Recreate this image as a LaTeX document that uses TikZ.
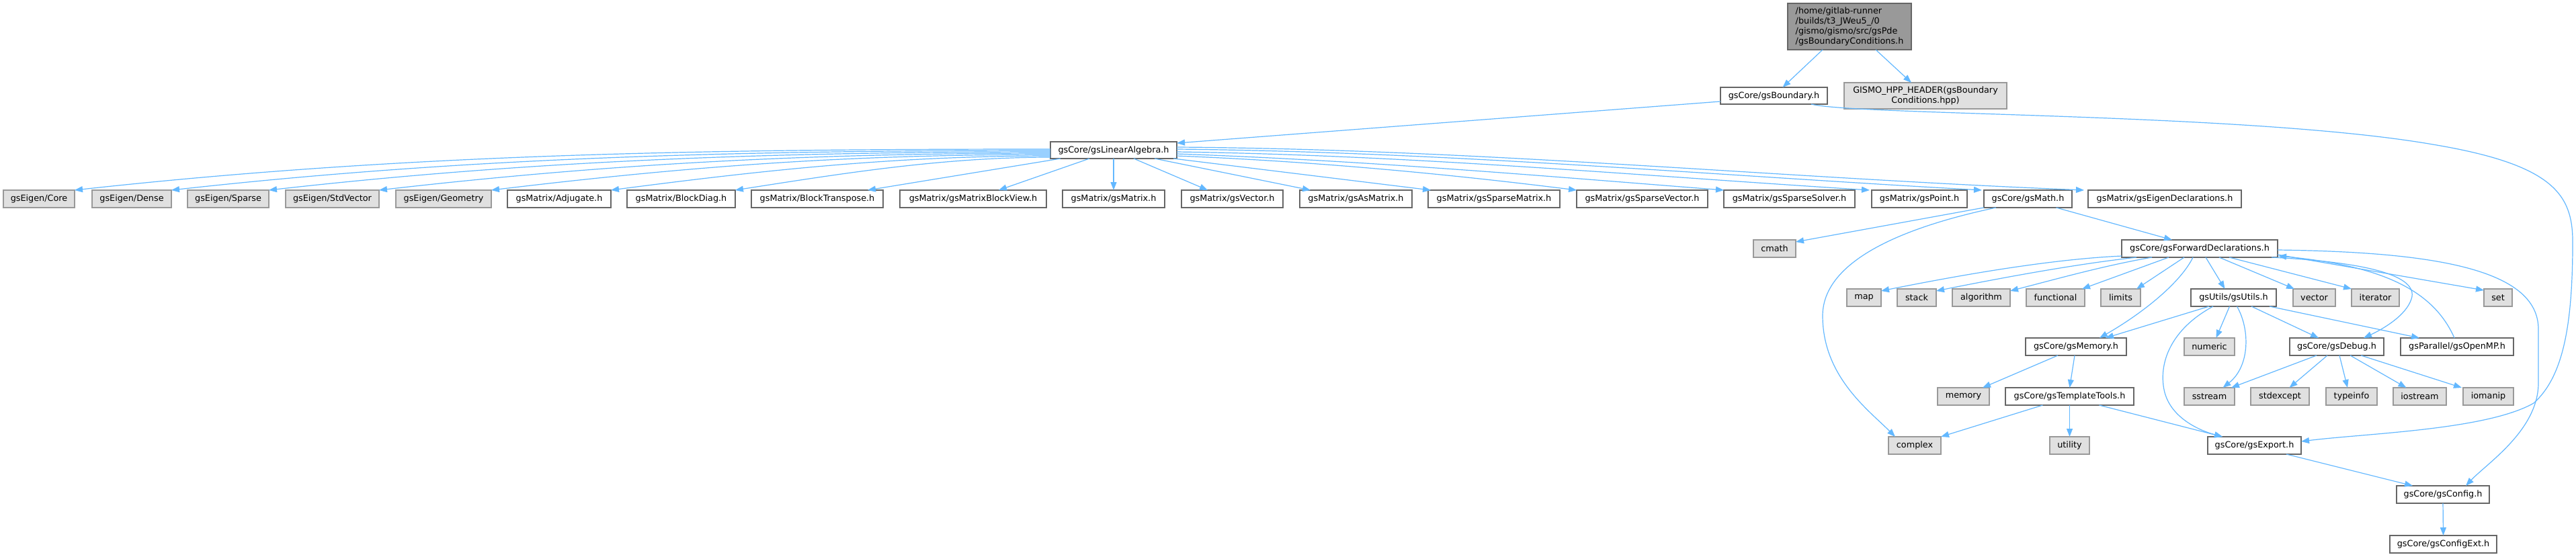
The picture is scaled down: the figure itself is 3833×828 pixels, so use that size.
\documentclass[tikz,border=0pt]{standalone}
\usepackage{fontspec}
\setmainfont{DejaVu Sans}
\usetikzlibrary{arrows.meta,calc}
\definecolor{edgec}{HTML}{63B8FF}
\definecolor{bordc}{HTML}{666666}
\definecolor{sysfill}{HTML}{E0E0E0}
\definecolor{sysbord}{HTML}{999999}
\definecolor{topfill}{HTML}{999999}
\newcommand{\gnode}[7]{\node[#1, minimum width={(#4)-(#3)}, minimum height={(#6)-(#5)}] (#2) at ({((#3)+(#4))/2},{((#5)+(#6))/2}) {#7};}
\begin{document}
\begin{tikzpicture}[x=1pt,y=-1pt,
  box/.style={draw=bordc, fill=white, line width=1.3pt, inner sep=0pt, outer sep=0pt, font=\fontsize{12.8}{15}\selectfont, text=black},
  sysbox/.style={box, draw=sysbord, fill=sysfill},
  topbox/.style={box, fill=topfill, align=left},
  edge/.style={draw=edgec, line width=1.2pt, -{Triangle[length=12pt,width=9pt]}}]
\fill[white] (0,0) rectangle (3833,828);
\useasboundingbox (0,0) rectangle (3833,828);
% nodes
\gnode{topbox}{top}{2660}{2844}{5}{74}{/home/gitlab-runner\\/builds/t3\_JWeu5\_/0\\/gismo/gismo/src/gsPde\\/gsBoundaryConditions.h}
\gnode{box}{gsb}{2560}{2719}{130}{155}{gsCore/gsBoundary.h}
\gnode{sysbox,align=center}{gismo}{2744}{2986}{123}{162}{GISMO\_HPP\_HEADER(gsBoundary\\Conditions.hpp)}
\gnode{box}{la}{1563}{1751}{211}{236}{gsCore/gsLinearAlgebra.h}
% row 1
\gnode{sysbox}{core}{5}{111}{283}{309}{gsEigen/Core}
\gnode{sysbox}{dense}{137}{255}{283}{309}{gsEigen/Dense}
\gnode{sysbox}{sparse}{279}{400}{283}{309}{gsEigen/Sparse}
\gnode{sysbox}{stdv}{425}{564}{283}{309}{gsEigen/StdVector}
\gnode{sysbox}{geom}{589}{731}{283}{309}{gsEigen/Geometry}
\gnode{box}{adj}{755}{909}{283}{309}{gsMatrix/Adjugate.h}
\gnode{box}{bdiag}{933}{1094}{283}{309}{gsMatrix/BlockDiag.h}
\gnode{box}{btr}{1118}{1314}{283}{309}{gsMatrix/BlockTranspose.h}
\gnode{box}{mbv}{1339}{1557}{283}{309}{gsMatrix/gsMatrixBlockView.h}
\gnode{box}{mat}{1581}{1733}{283}{309}{gsMatrix/gsMatrix.h}
\gnode{box}{vecm}{1758}{1909}{283}{309}{gsMatrix/gsVector.h}
\gnode{box}{asm}{1934}{2101}{283}{309}{gsMatrix/gsAsMatrix.h}
\gnode{box}{spm}{2125}{2321}{283}{309}{gsMatrix/gsSparseMatrix.h}
\gnode{box}{spv}{2346}{2541}{283}{309}{gsMatrix/gsSparseVector.h}
\gnode{box}{sps}{2565}{2760}{283}{309}{gsMatrix/gsSparseSolver.h}
\gnode{box}{pt}{2785}{2927}{283}{309}{gsMatrix/gsPoint.h}
\gnode{box}{math}{2952}{3083}{283}{309}{gsCore/gsMath.h}
\gnode{box}{eig}{3107}{3335}{283}{309}{gsMatrix/gsEigenDeclarations.h}
% row 2
\gnode{sysbox}{cmath}{2609}{2672}{357}{383}{cmath}
\gnode{box}{fd}{3157}{3389}{357}{383}{gsCore/gsForwardDeclarations.h}
% row 3
\gnode{sysbox}{nmap}{2748}{2799}{430}{456}{map}
\gnode{sysbox}{nstack}{2823}{2881}{430}{456}{stack}
\gnode{sysbox}{nalg}{2905}{2991}{430}{456}{algorithm}
\gnode{sysbox}{nfunc}{3015}{3102}{430}{456}{functional}
\gnode{sysbox}{nlim}{3126}{3185}{430}{456}{limits}
\gnode{box}{ut}{3260}{3387}{430}{456}{gsUtils/gsUtils.h}
\gnode{sysbox}{nvec}{3412}{3475}{430}{456}{vector}
\gnode{sysbox}{niter}{3499}{3570}{430}{456}{iterator}
\gnode{sysbox}{nset}{3696}{3738}{430}{456}{set}
% row 4
\gnode{box}{mem}{3014}{3164}{503}{529}{gsCore/gsMemory.h}
\gnode{sysbox}{num}{3250}{3325}{503}{529}{numeric}
\gnode{box}{dbg}{3407}{3547}{503}{529}{gsCore/gsDebug.h}
\gnode{box}{omp}{3572}{3740}{503}{529}{gsParallel/gsOpenMP.h}
% row 5
\gnode{sysbox}{nmemory}{2883}{2960}{577}{603}{memory}
\gnode{box}{tt}{2984}{3175}{577}{603}{gsCore/gsTemplateTools.h}
\gnode{sysbox}{sst}{3250}{3325}{577}{603}{sstream}
\gnode{sysbox}{stdx}{3349}{3436}{577}{603}{stdexcept}
\gnode{sysbox}{typ}{3461}{3537}{577}{603}{typeinfo}
\gnode{sysbox}{ios}{3561}{3640}{577}{603}{iostream}
\gnode{sysbox}{iom}{3665}{3740}{577}{603}{iomanip}
% row 6
\gnode{sysbox}{complex}{2810}{2888}{650}{676}{complex}
\gnode{sysbox}{util}{3050}{3109}{650}{676}{utility}
\gnode{box}{exp}{3285}{3424}{650}{676}{gsCore/gsExport.h}
% row 7-8
\gnode{box}{cfg}{3566}{3704}{723}{749}{gsCore/gsConfig.h}
\gnode{box}{cfgx}{3556}{3715}{797}{823}{gsCore/gsConfigExt.h}
% ---------------- edges
\draw[edge] ($(top.south)+(-40,0)$) -- ($(gsb.north)+(13,0)$);
\draw[edge] ($(top.south)+(39,0)$) -- ($(gismo.north)+(-21,0)$);
\draw[edge] ($(gsb.south west)+(0,-4)$) -- ($(la.north east)+(0,2)$);
\draw[edge] ($(gsb.south east)+(-24,0)$) .. controls (2760,172) and (3350,168) .. (3620,215) .. controls (3800,245) and (3828,290) .. (3828,360) .. controls (3828,480) and (3815,560) .. (3770,600) .. controls (3700,640) and (3520,645) .. ($(exp.north east)+(0,7)$);
% fan from linear algebra, left
\draw[edge] ($(la.north west)+(0,11)$) .. controls +(-500,0) and +(500,-55) .. (core.north east);
\draw[edge] ($(la.north west)+(0,13)$) .. controls +(-450,0) and +(450,-50) .. (dense.north east);
\draw[edge] ($(la.north west)+(0,15)$) .. controls +(-400,0) and +(400,-45) .. (sparse.north east);
\draw[edge] ($(la.north west)+(0,17)$) .. controls +(-350,0) and +(350,-40) .. (stdv.north east);
\draw[edge] ($(la.north west)+(0,19)$) .. controls +(-300,0) and +(300,-36) .. (geom.north east);
\draw[edge] ($(la.north west)+(0,21)$) .. controls +(-230,0) and +(230,-30) .. (adj.north east);
\draw[edge] ($(la.north west)+(0,23)$) .. controls +(-160,0) and +(160,-25) .. (bdiag.north east);
\draw[edge] ($(la.south west)+(15,0)$) -- ($(btr.north east)+(-23,0)$);
\draw[edge] ($(la.south west)+(58,0)$) -- ($(mbv.north east)+(-71,0)$);
\draw[edge] (la.south) -- (mat.north);
\draw[edge] ($(la.south)+(30,0)$) -- ($(vecm.north)+(-36.5,0)$);
\draw[edge] ($(la.south)+(61,0)$) -- ($(asm.north west)+(16,0)$);
\draw[edge] ($(la.south east)+(-5,0)$) -- ($(spm.north west)+(4,0)$);
\draw[edge] ($(la.south east)+(0,-4)$) .. controls +(200,8) and +(-200,-25) .. (spv.north west);
\draw[edge] ($(la.south east)+(0,-7)$) .. controls +(280,10) and +(-280,-22) .. (sps.north west);
\draw[edge] ($(la.north east)+(0,15)$) .. controls +(350,5) and +(-350,-22) .. ($(pt.north west)+(-3,0)$);
\draw[edge] ($(la.north east)+(0,11)$) .. controls +(400,4) and +(-400,-22) .. ($(math.north west)+(-3,0)$);
\draw[edge] ($(la.north east)+(0,8)$) .. controls +(450,3) and +(-450,-18) .. ($(eig.north west)+(-6,0)$);
% gsMath
\draw[edge] (math.south west) -- ($(cmath.north east)+(0,3)$);
\draw[edge] ($(math.south west)+(18,0)$) .. controls (2800,345) and (2712,400) .. (2712,470) .. controls (2712,560) and (2780,610) .. ($(complex.north west)+(10,0)$);
\draw[edge] ($(math.south)+(42,0)$) -- ($(fd.north)+(-41,0)$);
% forward declarations
\draw[edge] ($(fd.south west)+(0,-2)$) .. controls +(-110,5) and +(110,-22) .. ($(nmap.north east)+(0,3)$);
\draw[edge] ($(fd.south west)+(22,0)$) .. controls +(-90,10) and +(100,-20) .. ($(nstack.north east)+(0,3)$);
\draw[edge] ($(fd.south west)+(45,0)$) .. controls +(-70,12) and +(70,-18) .. ($(nalg.north east)+(0,3)$);
\draw[edge] ($(fd.south west)+(70,0)$) -- ($(nfunc.north east)+(-4,0)$);
\draw[edge] ($(fd.south west)+(93,0)$) -- ($(nlim.north east)+(-6,0)$);
\draw[edge] ($(fd.south)+(9,0)$) -- ($(ut.north)+(-13,0)$);
\draw[edge] ($(fd.south)+(29,0)$) -- ($(nvec.north west)+(2,0)$);
\draw[edge] ($(fd.south)+(44,0)$) -- (niter.north west);
\draw[edge] ($(fd.south east)+(0,-4)$) -- ($(nset.north west)+(0,2)$);
\draw[edge] ($(fd.south)+(-10,0)$) .. controls (3245,420) and (3190,465) .. ($(mem.north east)+(-40,0)$);
\draw[edge] ($(fd.south east)+(-9,0)$) .. controls (3520,390) and (3600,410) .. (3588,445) .. controls (3580,470) and (3545,490) .. ($(dbg.north)+(40,0)$);
\draw[edge] ($(fd.east)+(0,2)$) .. controls (3620,375) and (3777,400) .. (3777,490) -- (3777,570) .. controls (3777,640) and (3700,690) .. ($(cfg.north east)+(-35,0)$);
\draw[edge] ($(omp.north)+(-4,0)$) .. controls (3620,430) and (3540,395) .. ($(fd.east)+(1,11)$);
% utils
\draw[edge] ($(ut.south west)+(27,0)$) -- ($(mem.north east)+(-31,0)$);
\draw[edge] ($(ut.south)+(-6,0)$) -- ($(num.north)+(10,0)$);
\draw[edge] ($(ut.south)+(5,0)$) .. controls (3348,490) and (3348,545) .. ($(sst.north)+(20,0)$);
\draw[edge] ($(ut.south east)+(-37,0)$) -- ($(dbg.north west)+(43,0)$);
\draw[edge] ($(ut.south east)+(-10,0)$) -- ($(omp.north west)+(28,0)$);
\draw[edge] ($(ut.south west)+(33,0)$) .. controls (3230,490) and (3212,540) .. (3220,580) .. controls (3228,620) and (3270,640) .. ($(exp.north west)+(22,0)$);
% memory
\draw[edge] ($(mem.south)+(-27,0)$) -- ($(nmemory.north east)+(-10,0)$);
\draw[edge] ($(mem.south)+(-2,0)$) -- (tt.north);
% template tools
\draw[edge] ($(tt.south)+(-40,0)$) -- (complex.north east);
\draw[edge] (tt.south) -- (util.north);
\draw[edge] ($(tt.south)+(44,0)$) -- ($(exp.north west)+(22,0)$);
% debug
\draw[edge] ($(dbg.south west)+(40,0)$) -- ($(sst.north east)+(-5,0)$);
\draw[edge] ($(dbg.south west)+(56,0)$) -- ($(stdx.north)+(14,0)$);
\draw[edge] ($(dbg.south)+(4,0)$) -- ($(typ.north)+(-6,0)$);
\draw[edge] ($(dbg.south)+(20,0)$) -- ($(ios.north)+(-20,0)$);
\draw[edge] ($(dbg.south east)+(-34,0)$) -- ($(iom.north west)+(-2,0)$);
% export / config
\draw[edge] ($(exp.south east)+(-22,0)$) -- ($(cfg.north west)+(24,0)$);
\draw[edge] (cfg.south) -- (cfgx.north);
\end{tikzpicture}
\end{document}
